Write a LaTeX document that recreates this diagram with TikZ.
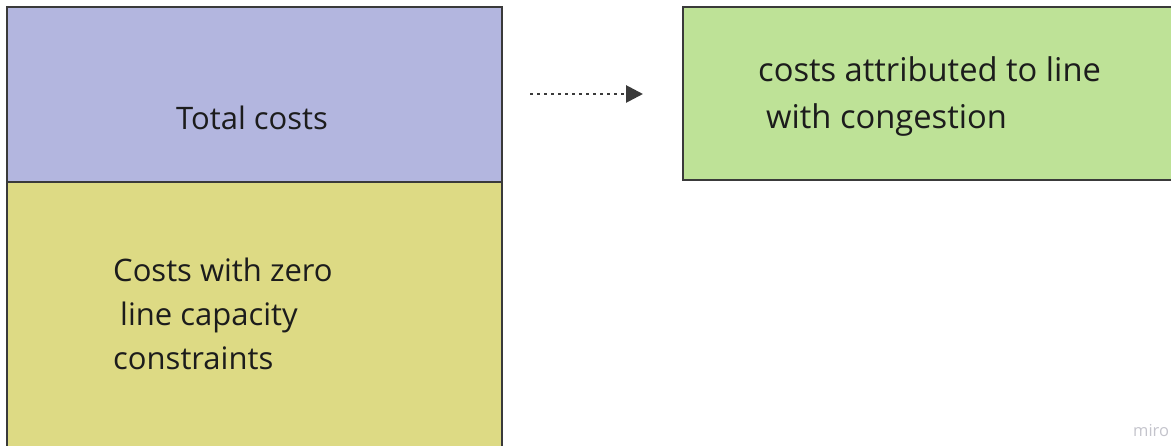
\documentclass[tikz,border=0pt]{standalone}
\usepackage{fontspec}
\setmainfont{Open Sans}
\usetikzlibrary{arrows.meta}
\definecolor{boxpurple}{HTML}{B3B6DF}
\definecolor{boxyellow}{HTML}{DDDA84}
\definecolor{boxgreen}{HTML}{BEE297}
\definecolor{inkdark}{HTML}{1C1C1C}
\definecolor{edgedark}{HTML}{3A3A3A}
\definecolor{markgray}{HTML}{C4C4CC}
\tikzset{
  panel/.style={draw=edgedark, line width=1.4pt},
  label/.style={anchor=base west, inner sep=0pt, text=inkdark, font=\fontsize{31}{37}\selectfont},
  biglabel/.style={label, font=\fontsize{32.7}{39}\selectfont},
  flow/.style={dash pattern=on 2.8pt off 4.2pt, line width=2.8pt, draw=edgedark,
    -{Triangle[length=17pt,width=17pt]}},
}
\begin{document}
\begin{tikzpicture}[x=1pt,y=-1pt]
\useasboundingbox (0,0) rectangle (1171,446);
\begin{scope}
\clip (0,0) rectangle (1171,446);
% left stack: total costs over zero-capacity costs
\draw[panel, fill=boxyellow] (7,182) rectangle (502,460);
\draw[panel, fill=boxpurple] (7,7) rectangle (502,182);
% right box: congestion share
\draw[panel, fill=boxgreen] (683,7) rectangle (1185,180);
\end{scope}
\coordinate (src) at (530,94);
\coordinate (dst) at (643,94);
\draw[flow] (src) -- (dst);
\node[label] (total) at (176,130) {Total costs};
\node[label] (zeroA) at (113,282) {Costs with zero};
\node[label] (zeroB) at (120,326) {line capacity};
\node[label] (zeroC) at (113,370) {constraints};
\node[biglabel] (congA) at (758,82) {costs attributed to line};
\node[biglabel] (congB) at (766,129) {with congestion};
\node[anchor=base west, inner sep=0pt, text=markgray, font=\fontsize{16.5}{20}\selectfont] (mark) at (1133,437) {miro};
\end{tikzpicture}
\end{document}
